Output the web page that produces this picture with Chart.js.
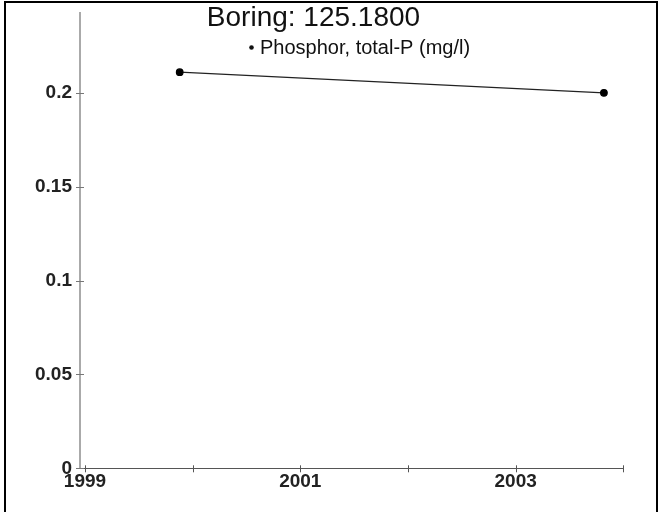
<!DOCTYPE html>
<html><head><meta charset="utf-8">
<script src="https://cdn.jsdelivr.net/npm/chart.js@4/dist/chart.umd.min.js"></script>
<style>html,body{margin:0;padding:0;background:#fff}#wrap{position:relative;width:659px;height:512px}</style>
</head><body><div id="wrap"><canvas id="c" width="659" height="512"></canvas></div>
<script>
const chartTitle = 'Boring: 125.1800';
const seriesName = 'Phosphor, total-P (mg/l)';
const sampleYears = [1999.88, 2003.82];
const phosphorValues = [0.211, 0.200];
const yTickValues = [0, 0.05, 0.1, 0.15, 0.2];
const yTickLabels = ['0', '0.05', '0.1', '0.15', '0.2'];
const xTickValues = [1999, 2000, 2001, 2002, 2003, 2004];
const xTickLabels = ['1999', '', '2001', '', '2003', ''];

const FONT = "'Liberation Sans', Arial, sans-serif";

const decor = {
  id: 'decor',
  afterDraw(chart) {
    const ctx = chart.ctx;
    const ca = chart.chartArea;
    const xs = chart.scales.x, ys = chart.scales.y;
    ctx.save();
    // tick marks crossing the axes
    ctx.lineWidth = 1;
    ctx.strokeStyle = '#555';
    xs.ticks.forEach(t => {
      const px = Math.round(xs.getPixelForValue(t.value)) + 0.5;
      ctx.beginPath(); ctx.moveTo(px, ca.bottom - 3); ctx.lineTo(px, ca.bottom + 4); ctx.stroke();
    });
    ctx.strokeStyle = '#777';
    ys.ticks.forEach(t => {
      const py = Math.round(ys.getPixelForValue(t.value)) + 0.5;
      ctx.beginPath(); ctx.moveTo(ca.left - 4, py); ctx.lineTo(ca.left + 4, py); ctx.stroke();
    });
    // title
    ctx.fillStyle = '#111';
    ctx.textAlign = 'center';
    ctx.textBaseline = 'alphabetic';
    ctx.font = '28px ' + FONT;
    ctx.fillText(chartTitle, 313.5, 26);
    // legend
    ctx.beginPath(); ctx.arc(251.5, 47.5, 2.3, 0, Math.PI * 2); ctx.fill();
    ctx.textAlign = 'left';
    ctx.font = '20px ' + FONT;
    ctx.fillText(seriesName, 260, 54);
    // frame
    ctx.fillStyle = '#000';
    ctx.fillRect(4, 1, 2, 511);
    ctx.fillRect(4, 1, 654, 2);
    ctx.fillRect(656, 1, 2, 511);
    ctx.restore();
  }
};

new Chart(document.getElementById('c'), {
  type: 'line',
  data: {
    datasets: [{
      label: seriesName,
      data: sampleYears.map((x, i) => ({ x: x, y: phosphorValues[i] })),
      borderColor: '#222',
      borderWidth: 1.2,
      backgroundColor: '#000',
      pointBackgroundColor: '#000',
      pointBorderColor: '#000',
      pointRadius: 3.3,
      tension: 0
    }]
  },
  options: {
    responsive: false,
    animation: false,
    devicePixelRatio: 1,
    layout: { padding: { top: 12.7, right: 35.7, left: 0, bottom: 0 } },
    plugins: { legend: { display: false }, title: { display: false }, tooltip: { enabled: false } },
    scales: {
      x: {
        type: 'linear',
        min: 1998.954,
        max: 2004,
        afterBuildTicks: s => { s.ticks = xTickValues.map(v => ({ value: v })); },
        afterFit: s => { s.height = 43.7; s.paddingLeft = 0; s.paddingRight = 0; },
        ticks: {
          autoSkip: false, maxRotation: 0, minRotation: 0, padding: 2,
          color: '#222',
          font: { family: FONT, size: 19, weight: 'bold' },
          callback: v => { const i = xTickValues.indexOf(v); return i >= 0 ? xTickLabels[i] : ''; }
        },
        grid: { display: true, drawOnChartArea: false, drawTicks: false },
        border: { display: true, color: '#555', width: 1 }
      },
      y: {
        min: 0,
        max: 0.2427,
        afterBuildTicks: s => { s.ticks = yTickValues.map(v => ({ value: v })); },
        afterFit: s => { s.width = 80; s.paddingTop = 0; s.paddingBottom = 0; },
        ticks: {
          padding: 8,
          color: '#222',
          font: { family: FONT, size: 19, weight: 'bold' },
          callback: v => { const i = yTickValues.indexOf(v); return i >= 0 ? yTickLabels[i] : ''; }
        },
        grid: { display: true, drawOnChartArea: false, drawTicks: false },
        border: { display: true, color: '#aaa', width: 2 }
      }
    }
  },
  plugins: [decor]
});
</script>
</body></html>
